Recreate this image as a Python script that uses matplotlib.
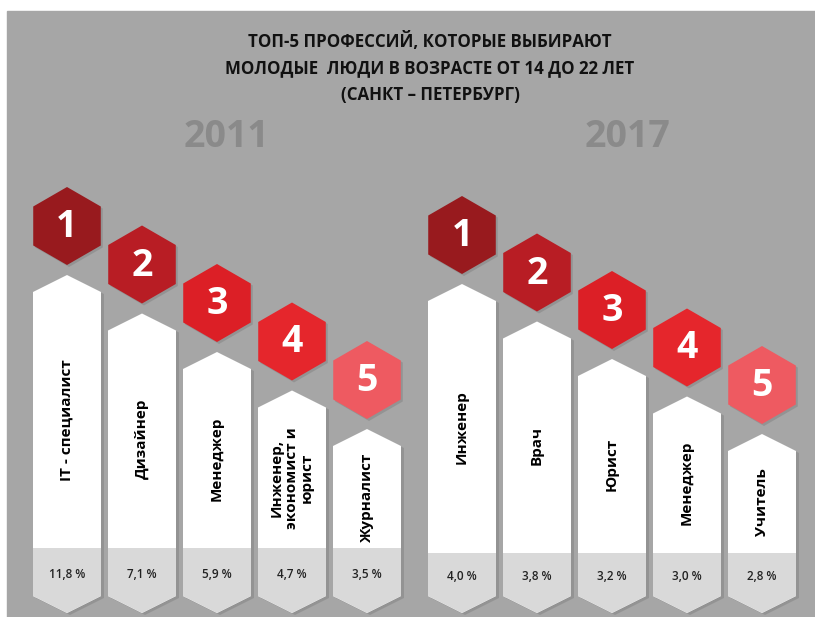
import matplotlib
matplotlib.use('Agg')
import matplotlib.pyplot as plt
from matplotlib.patches import Polygon, Rectangle
import numpy as np

# data
ranks = [1, 2, 3, 4, 5]
years = ['2011', '2017']
jobs_2011 = ['IT - специалист', 'Дизайнер', 'Менеджер',
             'Инженер,\nэкономист и\nюрист', 'Журналист']
share_2011 = [11.8, 7.1, 5.9, 4.7, 3.5]
jobs_2017 = ['Инженер', 'Врач', 'Юрист', 'Менеджер', 'Учитель']
share_2017 = [4.0, 3.8, 3.2, 3.0, 2.8]

title = ('ТОП-5 ПРОФЕССИЙ, КОТОРЫЕ ВЫБИРАЮТ\n'
         'МОЛОДЫЕ  ЛЮДИ В ВОЗРАСТЕ ОТ 14 ДО 22 ЛЕТ\n'
         '(САНКТ – ПЕТЕРБУРГ)')

hex_colors = ['#981a1e', '#b81d24', '#dc1f26', '#e5262c', '#ee5a61']
bg = '#a6a6a6'
band = '#d9d9d9'

plt.rcParams['font.family'] = ['Open Sans', 'DejaVu Sans']

W, H = 815, 617
fig = plt.figure(figsize=(W / 100, H / 100), dpi=100, facecolor='white')
ax = fig.add_axes([0, 0, 1, 1])
ax.set_xlim(0, W)
ax.set_ylim(H, 0)
ax.axis('off')

ax.add_patch(Rectangle((7, 11), W - 7, H - 11, color=bg, zorder=0))

ax.text(430, 68, title, ha='center', va='center', fontsize=12.2,
        fontweight='bold', color='#111111', linespacing=1.6)


def hexagon(cx, cy, r):
    ang = np.deg2rad(np.arange(6) * 60 + 90)
    return np.column_stack([cx + r * np.cos(ang), cy + r * np.sin(ang)])


def draw_group(x0, top0, dy, band_top, year, year_x, jobs, shares):
    step, bw = 75, 68
    ax.text(year_x, 137, year, ha='center', va='center',
            fontsize=27, fontweight='bold', color='#8a8a8a')
    for i, (rank, job, share) in enumerate(zip(ranks, jobs, shares)):
        cx = x0 + i * step
        apex = top0 + i * dy
        sh = apex + 17
        left, right = cx - bw / 2, cx + bw / 2
        b_sh, b_apex = 596, 613
        pts = np.array([[left, sh], [cx, apex], [right, sh], [right, b_sh],
                        [cx, b_apex], [left, b_sh]])
        ax.add_patch(Polygon(pts + [3, 2], closed=True, color='#8c8c8c',
                             alpha=0.7, lw=0, zorder=1))
        ax.add_patch(Polygon(pts, closed=True, color='white', lw=0, zorder=2))
        low = np.array([[left, band_top], [right, band_top], [right, b_sh],
                        [cx, b_apex], [left, b_sh]])
        ax.add_patch(Polygon(low, closed=True, color=band, lw=0, zorder=3))

        ax.text(cx, (sh + band_top) / 2, job, rotation=90, ha='center',
                va='center', fontsize=11, fontweight='bold', color='black',
                linespacing=1.1, zorder=4)
        ax.text(cx, (band_top + b_sh) / 2 + 2,
                f'{share:.1f}'.replace('.', ',') + ' %', ha='center',
                va='center', fontsize=8.5, fontweight='semibold',
                color='#222222', zorder=4)

        hy = apex - 49
        ax.add_patch(Polygon(hexagon(cx + 2, hy + 2, 39), closed=True,
                             color='#8c8c8c', alpha=0.7, lw=0, zorder=1))
        ax.add_patch(Polygon(hexagon(cx, hy, 39), closed=True,
                             color=hex_colors[i], lw=0, zorder=2))
        ax.text(cx, hy + 1, str(rank), ha='center', va='center', fontsize=27,
                fontweight='bold', color='white', zorder=4)


draw_group(67, 275, 38.5, 548, years[0], 226, jobs_2011, share_2011)
draw_group(462, 284, 37.5, 553, years[1], 628, jobs_2017, share_2017)

fig.savefig('out.png', dpi=100, facecolor='white')
